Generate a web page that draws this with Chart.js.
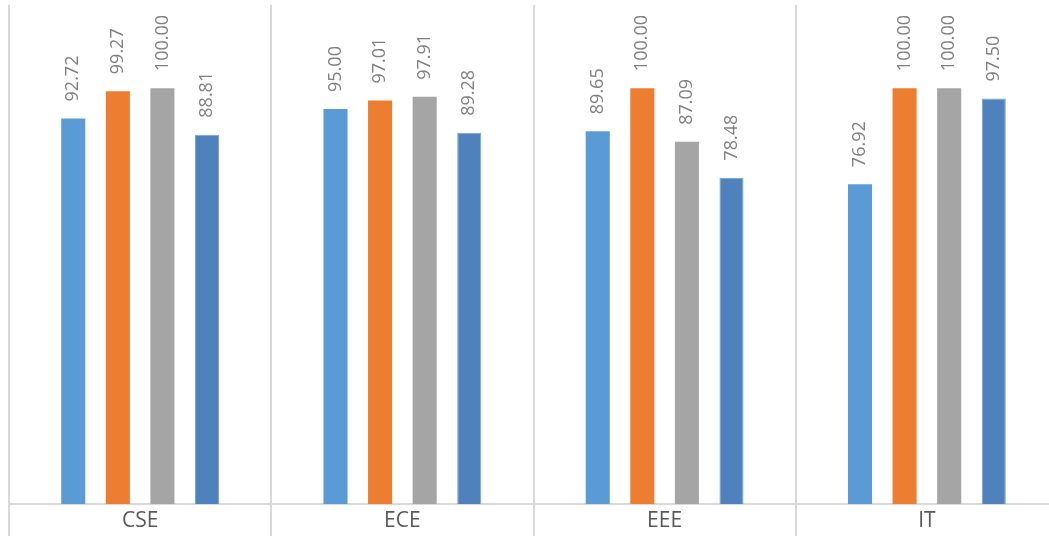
<!DOCTYPE html>
<html>
<head>
<meta charset="utf-8">
<script src="https://cdn.jsdelivr.net/npm/chart.js@4"></script>
<style>
    html, body { margin: 0; padding: 0; background: #fff; overflow: hidden; }
    #chart { display: block; }
</style>
</head>
<body>
<canvas id="chart" width="1058" height="536"></canvas>
<script>
// datos
const departamentos = ["CSE", "ECE", "EEE", "IT"];
const serie1 = [92.72, 95.00, 89.65, 76.92];
const serie2 = [99.27, 97.01, 100.00, 100.00];
const serie3 = [100.00, 97.91, 87.09, 100.00];
const serie4 = [88.81, 89.28, 78.48, 97.50];
const nombresSeries = ["Series 1", "Series 2", "Series 3", "Series 4"];

const colores = ["#5b9bd5", "#ed7d31", "#a5a5a5", "#4f81bd"];
const bordes = ["#5b9bd5", "#ed7d31", "#a5a5a5", "#6fa3da"];

// etiquetas giradas encima de cada barra
const etiquetasBarras = {
    id: "etiquetasBarras",
    afterDatasetsDraw(chart) {
        const ctx = chart.ctx;
        ctx.save();
        ctx.font = '18px "Open Sans"';
        ctx.fillStyle = "#808080";
        ctx.textAlign = "left";
        ctx.textBaseline = "middle";
        chart.data.datasets.forEach((ds, i) => {
            const meta = chart.getDatasetMeta(i);
            meta.data.forEach((bar, j) => {
                ctx.save();
                ctx.translate(bar.x, bar.y - 17);
                ctx.rotate(-Math.PI / 2);
                ctx.fillText(ds.data[j].toFixed(2), 0, 0);
                ctx.restore();
            });
        });
        ctx.restore();
    }
};

const series = [serie1, serie2, serie3, serie4];

new Chart(document.getElementById("chart"), {
    type: "bar",
    data: {
        labels: departamentos,
        datasets: series.map((s, i) => ({
            label: nombresSeries[i],
            data: s,
            backgroundColor: colores[i],
            borderColor: bordes[i],
            borderWidth: i === 3 ? 1 : 0,
            categoryPercentage: 0.68,
            barPercentage: 0.54
        }))
    },
    options: {
        responsive: false,
        animation: false,
        layout: { padding: { left: 9, top: 5, right: 0, bottom: 0 } },
        plugins: {
            legend: { display: false },
            tooltip: { enabled: false }
        },
        scales: {
            y: {
                display: false,
                min: 0,
                max: 120
            },
            x: {
                grid: {
                    offset: true,
                    color: "#d9d9d9",
                    lineWidth: 2,
                    tickLength: 32
                },
                border: { display: true, color: "#d9d9d9", width: 2 },
                ticks: {
                    color: "#595959",
                    font: { family: "Open Sans", size: 21 },
                    padding: -28
                },
                afterFit: (scale) => { scale.height = 32; }
            }
        }
    },
    plugins: [etiquetasBarras]
});
</script>
</body>
</html>
